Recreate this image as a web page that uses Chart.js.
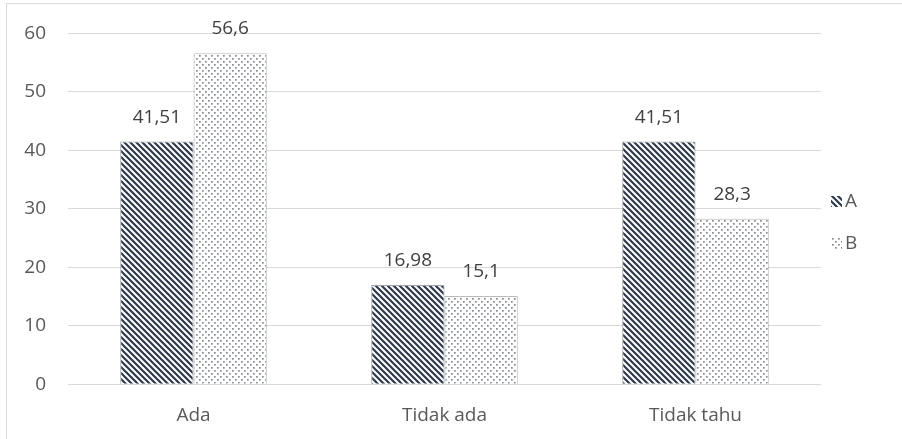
<!DOCTYPE html>
<html>
<head>
<meta charset="utf-8">
<script src="https://cdn.jsdelivr.net/npm/chart.js"></script>
<style>
  html, body { margin: 0; padding: 0; background: #fff; }
  #wrap { width: 902px; height: 439px; position: relative; }
</style>
</head>
<body>
<div id="wrap"><canvas id="chart" width="902" height="439"></canvas></div>
<script>
// data
const categories = ['Ada', 'Tidak ada', 'Tidak tahu'];
const seriesA = [41.51, 16.98, 41.51];
const seriesB = [56.6, 15.1, 28.3];
const seriesNames = ['A', 'B'];

// striped fill for A
function stripePattern() {
    const c = document.createElement('canvas');
    c.width = 6; c.height = 6;
    const g = c.getContext('2d');
    g.fillStyle = '#ffffff';
    g.fillRect(0, 0, 6, 6);
    g.strokeStyle = '#2e3a4c';
    g.lineWidth = 2.2;
    g.beginPath();
    g.moveTo(-1, -1); g.lineTo(7, 7);
    g.moveTo(-4, 2); g.lineTo(4, 10);
    g.moveTo(2, -4); g.lineTo(10, 4);
    g.stroke();
    return g.createPattern(c, 'repeat');
}

// dotted fill for B
function dotPattern() {
    const c = document.createElement('canvas');
    c.width = 6; c.height = 6;
    const g = c.getContext('2d');
    g.fillStyle = '#ffffff';
    g.fillRect(0, 0, 6, 6);
    g.fillStyle = '#878c93';
    g.fillRect(1, 1, 1.7, 1.7);
    g.fillRect(4, 4, 1.7, 1.7);
    return g.createPattern(c, 'repeat');
}

const fillA = stripePattern();
const fillB = dotPattern();
const textFont = '"Open Sans", sans-serif';

const frame = {
    id: 'frame',
    beforeDraw(chart) {
        const ctx = chart.ctx;
        ctx.save();
        ctx.strokeStyle = '#d9d9d9';
        ctx.lineWidth = 1;
        ctx.strokeRect(6.5, 3.5, 920, 460);
        ctx.restore();
    }
};

const valueLabels = {
    id: 'valueLabels',
    afterDatasetsDraw(chart) {
        const ctx = chart.ctx;
        ctx.save();
        ctx.font = '19px ' + textFont;
        ctx.fillStyle = '#404040';
        ctx.textAlign = 'center';
        ctx.textBaseline = 'alphabetic';
        chart.data.datasets.forEach((ds, i) => {
            chart.getDatasetMeta(i).data.forEach((bar, j) => {
                const txt = String(ds.data[j]).replace('.', ',');
                ctx.fillText(txt, bar.x, bar.y - 19);
            });
        });
        ctx.restore();
    }
};

const sideLegend = {
    id: 'sideLegend',
    afterDraw(chart) {
        const ctx = chart.ctx;
        ctx.save();
        ctx.font = '19px ' + textFont;
        ctx.textBaseline = 'middle';
        chart.data.datasets.forEach((ds, i) => {
            const y = 201 + i * 42;
            ctx.fillStyle = ds.backgroundColor;
            ctx.fillRect(831, y - 5, 11, 11);
            ctx.fillStyle = '#595959';
            ctx.fillText(ds.label, 845, y + 1);
        });
        ctx.restore();
    }
};

new Chart(document.getElementById('chart').getContext('2d'), {
    type: 'bar',
    data: {
        labels: categories,
        datasets: [{
            label: seriesNames[0],
            data: seriesA,
            backgroundColor: fillA,
            borderColor: 'rgba(60,70,85,0.5)',
            borderWidth: 1
        }, {
            label: seriesNames[1],
            data: seriesB,
            backgroundColor: fillB,
            borderColor: 'rgba(140,140,140,0.6)',
            borderWidth: 1
        }]
    },
    options: {
        responsive: false,
        animation: false,
        layout: { padding: { top: 29, right: 81, bottom: 0, left: 0 } },
        categoryPercentage: 0.584,
        barPercentage: 1,
        scales: {
            x: {
                grid: { display: false },
                border: { display: false },
                ticks: { color: '#595959', font: { family: textFont, size: 19 }, padding: 12 }
            },
            y: {
                min: 0,
                max: 60,
                ticks: { stepSize: 10, color: '#595959', font: { family: textFont, size: 19 }, padding: 22 },
                grid: { color: '#d9d9d9', drawTicks: false },
                border: { display: false },
                afterFit(scale) { scale.width = 68; }
            }
        },
        plugins: {
            legend: { display: false },
            tooltip: { enabled: false }
        }
    },
    plugins: [frame, valueLabels, sideLegend]
});
</script>
</body>
</html>
